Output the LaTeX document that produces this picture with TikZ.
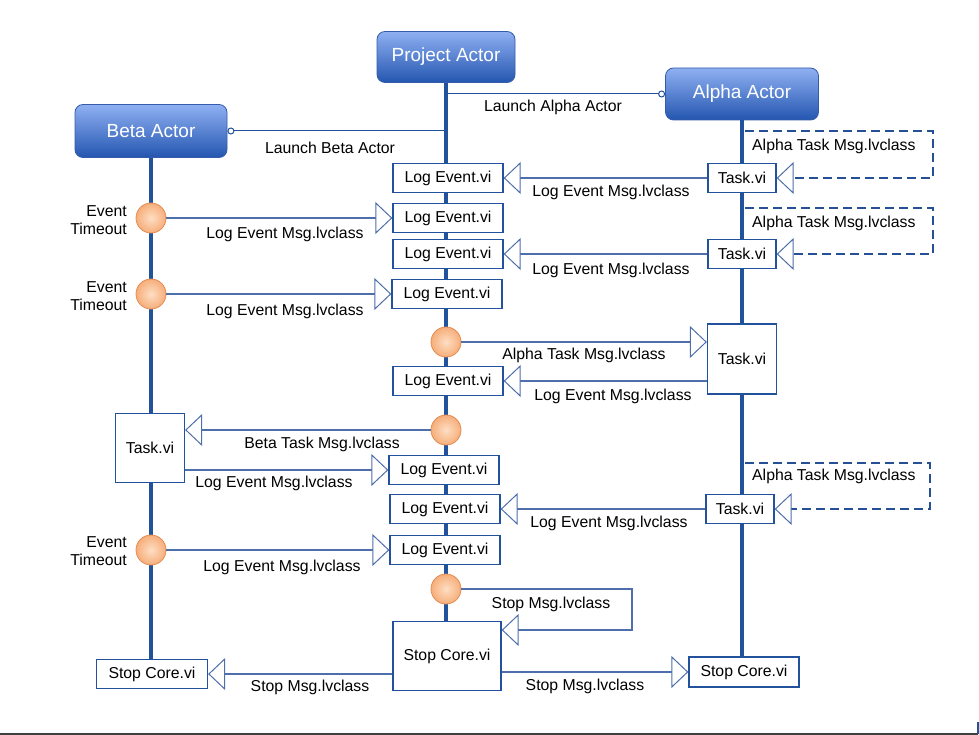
\documentclass[tikz,border=0pt]{standalone}
\usepackage{fontspec}
\setmainfont{Liberation Sans}
\usetikzlibrary{arrows.meta}
\definecolor{lifeblue}{RGB}{33,82,155}
\definecolor{msgblue}{RGB}{78,110,172}
\definecolor{dashblue}{RGB}{38,80,150}
\definecolor{acttop}{RGB}{143,176,242}
\definecolor{actbot}{RGB}{36,86,176}
\definecolor{actborder}{RGB}{52,92,170}
\definecolor{ballin}{RGB}{254,222,196}
\definecolor{ballout}{RGB}{246,174,122}
\definecolor{ballborder}{RGB}{226,140,84}
\begin{document}
\begin{tikzpicture}[x=1pt,y=-1pt]
\tikzset{actbox/.style={draw=actborder, line width=0.8pt, rounded corners=8pt, top color=acttop, bottom color=actbot, text=white, inner sep=0pt, font=\fontsize{19}{22}\selectfont},
vibox/.style={draw=lifeblue, line width=1.3pt, fill=white, inner sep=0pt, minimum width=110pt, minimum height=29pt, font=\fontsize{15.8}{18}\selectfont},
evball/.style={circle, draw=ballborder, line width=0.8pt, inner color=ballin, outer color=ballout, minimum size=30pt, inner sep=0pt},
lbl/.style={inner sep=0pt, font=\fontsize{15.8}{18}\selectfont},
life/.style={draw=lifeblue, line width=4.5pt},
launch/.style={draw=lifeblue, line width=1pt, -{Circle[open, length=7pt, fill=white]}},
msg/.style={draw=msgblue, line width=1.2pt, -{Triangle[open, length=17pt, width=32pt, line width=1pt, fill=white]}},
dashmsg/.style={draw=dashblue, line width=2.8pt, dash pattern=on 9pt off 5pt, -{Triangle[open, length=17pt, width=32pt, line width=1pt, fill=white, color=msgblue]}}}
\useasboundingbox (0,0) rectangle (979,735);
\draw[black!75, line width=1.5pt] (0,734) -- (978,734);
\draw[lifeblue, line width=1.5pt] (978,722) -- (978,734);
\node[actbox, minimum width=138pt, minimum height=51pt] (PA) at (446,57) {Project Actor};
\node[actbox, minimum width=152pt, minimum height=53pt] (BA) at (151,131) {Beta Actor};
\node[actbox, minimum width=153pt, minimum height=52pt] (AA) at (742,94) {Alpha Actor};
\node[vibox, minimum width=111pt] (SB) at (152,674) {Stop Core.vi};
\node[vibox, minimum width=108pt, minimum height=69pt] (SC) at (447,656) {Stop Core.vi};
\node[vibox, minimum width=110pt, minimum height=30pt] (SA) at (744,672) {Stop Core.vi};
\draw[life] (BA.south) -- (BA.south |- SB.north);
\draw[life] (PA.south) -- (PA.south |- SC.north);
\draw[life] (AA.south) -- (AA.south |- SA.north);
\draw[launch] (PA.south |- BA.east) -- (BA.east);
\draw[launch] (PA.south |- AA.west) -- (AA.west);
\node[lbl] (lb) at (330,148) {Launch Beta Actor};
\node[lbl] (la) at (553,107) {Launch Alpha Actor};
\node[vibox] (L1) at (448,178) {Log Event.vi};
\node[vibox] (L2) at (448,218) {Log Event.vi};
\node[vibox] (L3) at (448,254) {Log Event.vi};
\node[vibox] (L4) at (447,294) {Log Event.vi};
\node[vibox] (L5) at (448,381) {Log Event.vi};
\node[vibox] (L6) at (444,470) {Log Event.vi};
\node[vibox] (L7) at (445,509) {Log Event.vi};
\node[vibox] (L8) at (445,550) {Log Event.vi};
\node[vibox, minimum width=68pt] (T1) at (742,178) {Task.vi};
\node[vibox, minimum width=68pt] (T2) at (742,254) {Task.vi};
\node[vibox, minimum width=68pt] (T3) at (740,509) {Task.vi};
\node[vibox, minimum width=69pt, minimum height=70pt] (TA) at (742,359) {Task.vi};
\node[vibox, minimum width=69pt, minimum height=69pt] (TB) at (150,448) {Task.vi};
\node[evball] (C1) at (151,218) {};
\node[evball] (C2) at (151,294) {};
\node[evball] (C3) at (151,550) {};
\node[evball] (P1) at (446,342) {};
\node[evball] (P2) at (446,430) {};
\node[evball] (P3) at (446,589) {};
\node[lbl, align=right, anchor=east] (E1) at (127,220) {Event\\Timeout};
\node[lbl, align=right, anchor=east] (E2) at (127,296) {Event\\Timeout};
\node[lbl, align=right, anchor=east] (E3) at (127,551) {Event\\Timeout};
\draw[msg] (C1) -- (L2);
\draw[msg] (C2) -- (L4);
\draw[msg] (C3) -- (L8);
\node[lbl] (m1) at (285,234) {Log Event Msg.lvclass};
\node[lbl] (m2) at (285,311) {Log Event Msg.lvclass};
\node[lbl] (m3) at (282,567) {Log Event Msg.lvclass};
\draw[msg] (T1) -- (L1);
\draw[msg] (T2) -- (L3);
\draw[msg] (T3) -- (L7);
\node[lbl] (m4) at (611,192) {Log Event Msg.lvclass};
\node[lbl] (m5) at (611,270) {Log Event Msg.lvclass};
\node[lbl] (m6) at (609,523) {Log Event Msg.lvclass};
\coordinate (Q1) at (745,131);
\coordinate (R1) at (933,131);
\coordinate (Q2) at (745,208);
\coordinate (R2) at (933,208);
\coordinate (Q3) at (745,463);
\coordinate (R3) at (930,463);
\draw[dashmsg] (Q1) -- (R1) |- (T1.east);
\draw[dashmsg] (Q2) -- (R2) |- (T2.east);
\draw[dashmsg] (Q3) -- (R3) |- (T3.east);
\node[lbl, anchor=west] (d1) at (752,146) {Alpha Task Msg.lvclass};
\node[lbl, anchor=west] (d2) at (752,223) {Alpha Task Msg.lvclass};
\node[lbl, anchor=west] (d3) at (752,476) {Alpha Task Msg.lvclass};
\draw[msg] (P1) -- (P1 -| TA.west);
\draw[msg] (TA.west |- L5) -- (L5);
\node[lbl] (m7) at (584,355) {Alpha Task Msg.lvclass};
\node[lbl] (m8) at (613,396) {Log Event Msg.lvclass};
\draw[msg] (P2) -- (P2 -| TB.east);
\draw[msg] (TB.east |- L6) -- (L6);
\node[lbl] (m9) at (322,444) {Beta Task Msg.lvclass};
\node[lbl] (m10) at (274,483) {Log Event Msg.lvclass};
\coordinate (S1) at (632,589);
\coordinate (S2) at (632,630);
\draw[msg] (P3) -- (S1) -- (S2) -- (S2 -| SC.east);
\node[lbl] (m11) at (551,604) {Stop Msg.lvclass};
\draw[msg] (SC.west |- SB) -- (SB);
\draw[msg] (SC.east |- SA) -- (SA);
\node[lbl] (m12) at (310,687) {Stop Msg.lvclass};
\node[lbl] (m13) at (585,686) {Stop Msg.lvclass};
\end{tikzpicture}
\end{document}
